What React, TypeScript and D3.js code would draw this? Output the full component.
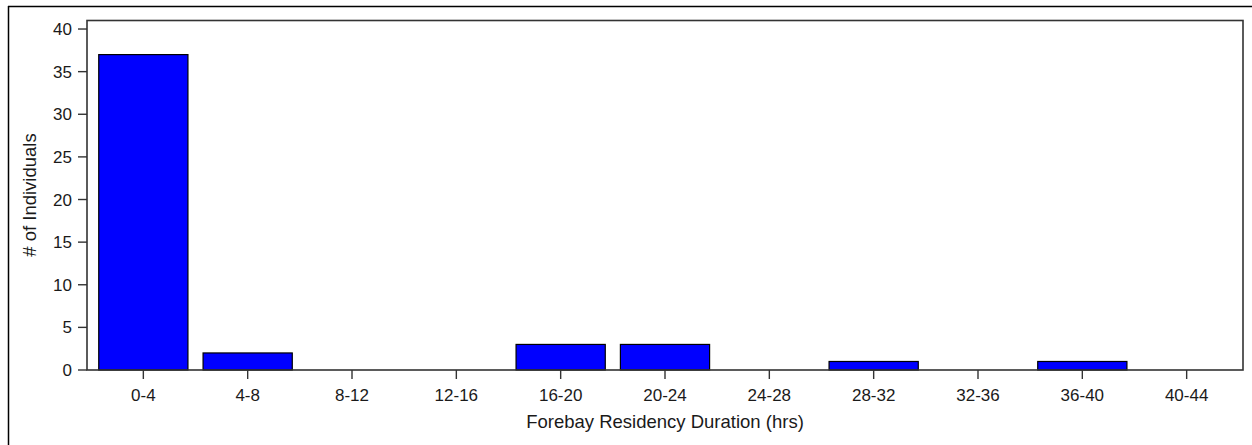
import React from "react";
import * as d3 from "d3";

const categories = ["0-4", "4-8", "8-12", "12-16", "16-20", "20-24", "24-28", "28-32", "32-36", "36-40", "40-44"];
const counts = [37, 2, 0, 0, 3, 3, 0, 1, 0, 1, 0];
const yTicks = [0, 5, 10, 15, 20, 25, 30, 35, 40];
const xTitle = "Forebay Residency Duration (hrs)";
const yTitle = "# of Individuals";

const W = 1252;
const H = 445;
const plot = { left: 87, right: 1243, top: 20.5, bottom: 370 };
const FONT = "'Liberation Sans', Arial, sans-serif";

export default function App() {
  const x = d3
    .scaleBand<string>()
    .domain(categories)
    .range([plot.left, plot.right])
    .paddingInner(0)
    .paddingOuter(0.04);
  const y = d3.scaleLinear().domain([0, 41]).range([plot.bottom, plot.top]);
  const barW = x.step() * 0.855;

  return (
    <svg
      width={W}
      height={H}
      style={{ position: "absolute", left: 0, top: 0, background: "#fff" }}
      fontFamily={FONT}
    >
      <rect x={0} y={0} width={W} height={H} fill="#fff" />
      {/* outer frame */}
      <line x1={8} y1={6.5} x2={W} y2={6.5} stroke="#000" strokeWidth={1.5} />
      <line x1={8.5} y1={6} x2={8.5} y2={H} stroke="#000" strokeWidth={1.5} />

      {/* bars */}
      {categories.map((c, i) =>
        counts[i] > 0 ? (
          <rect
            key={c}
            x={x(c)! + x.bandwidth() / 2 - barW / 2}
            y={y(counts[i])}
            width={barW}
            height={y(0) - y(counts[i])}
            fill="#0000ff"
            stroke="#000"
            strokeWidth={1.2}
          />
        ) : null
      )}

      {/* plot border */}
      <rect
        x={plot.left}
        y={plot.top}
        width={plot.right - plot.left}
        height={plot.bottom - plot.top}
        fill="none"
        stroke="#333"
        strokeWidth={1.6}
      />

      {/* y axis ticks */}
      {yTicks.map((t) => (
        <g key={t}>
          <line x1={plot.left - 9} x2={plot.left} y1={y(t)} y2={y(t)} stroke="#333" strokeWidth={1.4} />
          <text
            x={plot.left - 15}
            y={y(t)}
            dy="0.36em"
            textAnchor="end"
            fontSize={17}
            fill="#1a1a1a"
          >
            {t}
          </text>
        </g>
      ))}

      {/* x axis ticks */}
      {categories.map((c) => {
        const cx = x(c)! + x.bandwidth() / 2;
        return (
          <g key={c}>
            <line x1={cx} x2={cx} y1={plot.bottom} y2={plot.bottom + 9} stroke="#333" strokeWidth={1.4} />
            <text x={cx} y={plot.bottom + 25} dy="0.36em" textAnchor="middle" fontSize={17} fill="#1a1a1a">
              {c}
            </text>
          </g>
        );
      })}

      {/* axis titles */}
      <text
        x={(plot.left + plot.right) / 2}
        y={421}
        dy="0.36em"
        textAnchor="middle"
        fontSize={18.5}
        fill="#1a1a1a"
      >
        {xTitle}
      </text>
      <text
        transform={`translate(29, ${195}) rotate(-90)`}
        dy="0.36em"
        textAnchor="middle"
        fontSize={18.5}
        fill="#1a1a1a"
      >
        {yTitle}
      </text>
    </svg>
  );
}
